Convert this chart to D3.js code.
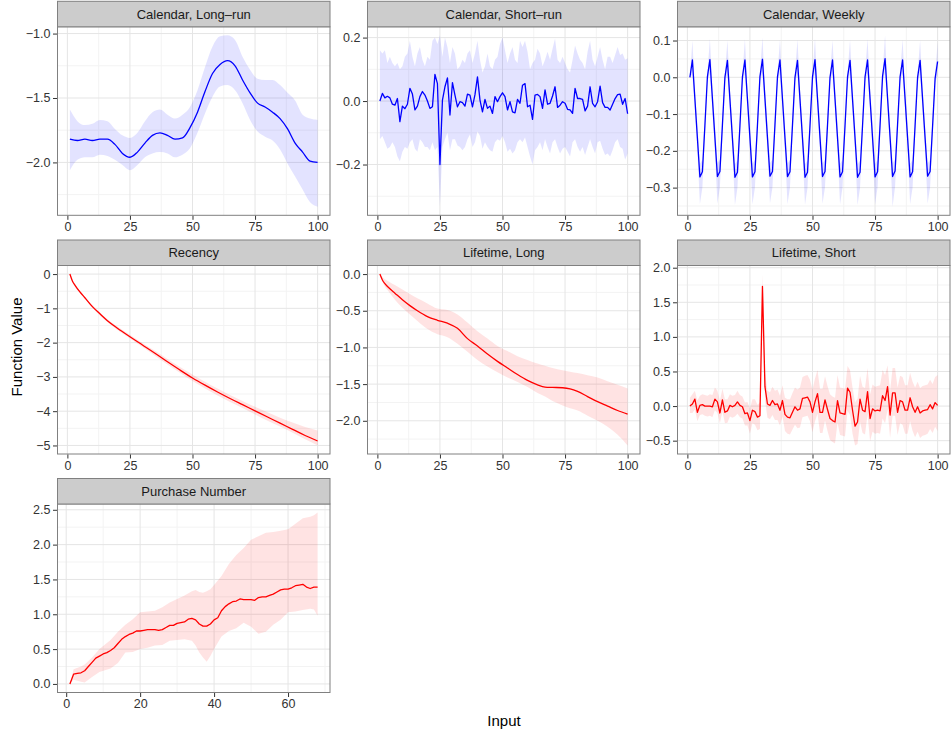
<!DOCTYPE html>
<html><head><meta charset="utf-8">
<script src="https://cdn.jsdelivr.net/npm/d3@7"></script>
<style>
body{margin:0;background:#fff}
svg{display:block;font-family:"Liberation Sans",Arial,Helvetica,sans-serif}
</style>
</head><body>
<svg id="chart" width="951" height="734"></svg>
<script>
// ---------------- DATA ----------------
const facetTitles = ["Calendar, Long\u2013run","Calendar, Short\u2013run","Calendar, Weekly","Recency","Lifetime, Long","Lifetime, Short","Purchase Number"];

const x100 = d3.range(1, 101);   // inputs 1..100
const x68 = d3.range(1, 69);     // inputs 1..68

// Calendar, Long-run
const clX = [1,4,7,10,13,16,19,22,25,28,31,34,37,40,43,46,49,52,55,58,61,64,67,70,73,76,79,82,85,88,91,94,97,100];
const clLine = [-1.82,-1.83,-1.82,-1.83,-1.82,-1.82,-1.86,-1.93,-1.96,-1.92,-1.85,-1.79,-1.77,-1.79,-1.82,-1.81,-1.73,-1.61,-1.45,-1.31,-1.24,-1.21,-1.25,-1.36,-1.46,-1.54,-1.57,-1.61,-1.66,-1.74,-1.85,-1.92,-1.99,-2.00];
const clUpper = [-1.59,-1.68,-1.71,-1.70,-1.67,-1.68,-1.74,-1.79,-1.81,-1.77,-1.68,-1.61,-1.59,-1.63,-1.66,-1.63,-1.57,-1.44,-1.26,-1.10,-1.02,-1.014,-1.05,-1.18,-1.28,-1.35,-1.36,-1.36,-1.40,-1.46,-1.52,-1.63,-1.66,-1.67];
const clLower = [-2.06,-1.98,-1.96,-1.96,-1.94,-1.95,-1.98,-2.02,-2.06,-2.02,-1.96,-1.93,-1.92,-1.93,-1.96,-1.94,-1.89,-1.77,-1.62,-1.49,-1.41,-1.40,-1.44,-1.54,-1.67,-1.76,-1.80,-1.83,-1.90,-2.01,-2.11,-2.21,-2.31,-2.344];

// Calendar, Short-run
const csLine = [0,0.024,0.010,0.015,0.010,-0.010,-0.013,0.008,-0.065,-0.016,-0.024,-0.010,0.040,0.022,-0.028,-0.016,0.014,0.030,0.019,0.000,-0.023,-0.018,0.084,0.055,-0.200,0.003,0.045,0.073,-0.044,0.058,0.019,-0.018,-0.002,-0.005,-0.016,0.022,0.019,-0.018,0.020,0.076,0.003,-0.034,0.005,-0.023,-0.016,-0.039,0.014,-0.002,0.014,0.026,0.014,-0.028,-0.002,-0.034,-0.037,0.005,-0.007,0.050,0.055,-0.018,-0.013,-0.058,0.019,0.021,0.014,-0.023,0.035,-0.010,-0.007,0.016,0.045,-0.020,-0.013,-0.002,-0.007,-0.026,-0.028,-0.039,0.040,0.008,0.008,0.005,-0.031,-0.016,0.045,-0.007,-0.018,-0.002,0.047,-0.005,-0.020,-0.020,-0.028,-0.010,0.008,0.020,0.022,-0.010,0.008,-0.040];
const csUpper = [0.16,0.15,0.16,0.12,0.14,0.12,0.11,0.12,0.10,0.11,0.14,0.15,0.19,0.14,0.11,0.15,0.17,0.13,0.11,0.14,0.13,0.19,0.20,0.18,0.207,0.14,0.20,0.17,0.12,0.17,0.15,0.10,0.11,0.13,0.12,0.15,0.16,0.12,0.15,0.19,0.13,0.09,0.11,0.15,0.11,0.10,0.13,0.14,0.18,0.20,0.16,0.12,0.15,0.17,0.13,0.12,0.19,0.17,0.19,0.155,0.10,0.12,0.13,0.165,0.15,0.11,0.13,0.155,0.13,0.165,0.197,0.13,0.12,0.14,0.12,0.10,0.09,0.13,0.175,0.15,0.13,0.12,0.10,0.155,0.19,0.13,0.11,0.14,0.17,0.13,0.10,0.14,0.14,0.12,0.145,0.17,0.145,0.15,0.13,0.135];
const csLower = [-0.12,-0.11,-0.13,-0.15,-0.145,-0.13,-0.145,-0.175,-0.19,-0.16,-0.145,-0.15,-0.13,-0.12,-0.15,-0.16,-0.12,-0.13,-0.145,-0.145,-0.155,-0.13,-0.155,-0.145,-0.333,-0.145,-0.12,-0.10,-0.155,-0.12,-0.12,-0.14,-0.145,-0.155,-0.145,-0.12,-0.105,-0.145,-0.13,-0.096,-0.11,-0.15,-0.13,-0.145,-0.155,-0.16,-0.13,-0.12,-0.125,-0.11,-0.13,-0.16,-0.15,-0.165,-0.155,-0.13,-0.12,-0.13,-0.115,-0.145,-0.175,-0.20,-0.155,-0.145,-0.13,-0.155,-0.12,-0.145,-0.165,-0.13,-0.12,-0.145,-0.165,-0.15,-0.145,-0.16,-0.175,-0.13,-0.12,-0.145,-0.16,-0.145,-0.17,-0.145,-0.12,-0.145,-0.165,-0.13,-0.125,-0.15,-0.17,-0.165,-0.175,-0.155,-0.13,-0.12,-0.145,-0.15,-0.185,-0.165];

// Calendar, Weekly
const cwLine = [
 0,0.047,-0.059,-0.165,-0.271,-0.257,-0.131,
 0.001,0.048,-0.058,-0.164,-0.270,-0.256,-0.130,
 0.000,0.046,-0.060,-0.166,-0.272,-0.258,-0.132,
 0.001,0.047,-0.059,-0.165,-0.271,-0.257,-0.131,
 0.002,0.049,-0.058,-0.164,-0.269,-0.256,-0.129,
 0.001,0.047,-0.059,-0.165,-0.270,-0.257,-0.130,
 0.000,0.046,-0.060,-0.166,-0.272,-0.258,-0.131,
 0.001,0.048,-0.058,-0.164,-0.270,-0.256,-0.130,
 0.000,0.047,-0.059,-0.165,-0.271,-0.257,-0.131,
 0.001,0.046,-0.060,-0.166,-0.272,-0.258,-0.131,
 0.001,0.047,-0.059,-0.165,-0.271,-0.257,-0.130,
 0.003,0.051,-0.057,-0.163,-0.270,-0.255,-0.128,
 0.001,0.047,-0.059,-0.165,-0.271,-0.257,-0.131,
 0.000,0.046,-0.060,-0.166,-0.269,-0.256,-0.132,
 -0.003,0.043];
const cwUpper = [
 0,0.100,-0.030,-0.130,-0.235,-0.225,-0.105,
 0.012,0.105,-0.028,-0.128,-0.233,-0.224,-0.104,
 0.011,0.101,-0.031,-0.131,-0.236,-0.226,-0.106,
 0.012,0.104,-0.030,-0.130,-0.235,-0.225,-0.105,
 0.013,0.108,-0.029,-0.129,-0.233,-0.224,-0.103,
 0.012,0.102,-0.030,-0.130,-0.234,-0.225,-0.104,
 0.011,0.103,-0.031,-0.131,-0.236,-0.226,-0.105,
 0.012,0.106,-0.029,-0.129,-0.234,-0.224,-0.104,
 0.011,0.101,-0.030,-0.130,-0.235,-0.225,-0.105,
 0.012,0.102,-0.031,-0.131,-0.236,-0.226,-0.105,
 0.012,0.104,-0.030,-0.130,-0.235,-0.225,-0.104,
 0.014,0.114,-0.028,-0.128,-0.234,-0.223,-0.102,
 0.012,0.103,-0.030,-0.130,-0.235,-0.225,-0.105,
 0.011,0.101,-0.031,-0.131,-0.233,-0.224,-0.106,
 0.008,0.096];
const cwLower = [
 0,0.008,-0.090,-0.200,-0.345,-0.300,-0.160,
 -0.010,0.009,-0.089,-0.199,-0.344,-0.299,-0.159,
 -0.011,0.007,-0.091,-0.201,-0.348,-0.301,-0.161,
 -0.010,0.008,-0.090,-0.200,-0.346,-0.300,-0.160,
 -0.009,0.010,-0.089,-0.199,-0.343,-0.299,-0.158,
 -0.010,0.008,-0.090,-0.200,-0.345,-0.300,-0.159,
 -0.011,0.007,-0.091,-0.201,-0.347,-0.301,-0.160,
 -0.010,0.009,-0.089,-0.199,-0.344,-0.299,-0.159,
 -0.011,0.008,-0.090,-0.200,-0.346,-0.300,-0.160,
 -0.010,0.007,-0.091,-0.201,-0.347,-0.301,-0.160,
 -0.010,0.008,-0.090,-0.200,-0.346,-0.300,-0.159,
 -0.008,0.012,-0.088,-0.198,-0.352,-0.298,-0.157,
 -0.010,0.008,-0.090,-0.200,-0.345,-0.300,-0.160,
 -0.011,0.007,-0.091,-0.201,-0.344,-0.299,-0.161,
 -0.014,0.004];

// Recency
const reX = [1,2,3,5,7,10,13,16,20,25,30,35,40,45,50,55,60,65,70,75,80,85,90,95,100];
const reLine = [0,-0.2,-0.32,-0.52,-0.69,-0.95,-1.16,-1.36,-1.58,-1.83,-2.07,-2.31,-2.56,-2.8,-3.03,-3.24,-3.44,-3.63,-3.81,-3.99,-4.17,-4.35,-4.53,-4.71,-4.87];
const reUpper = [0,-0.18,-0.3,-0.49,-0.66,-0.92,-1.12,-1.32,-1.53,-1.77,-2.01,-2.24,-2.48,-2.71,-2.93,-3.14,-3.34,-3.53,-3.7,-3.87,-4.03,-4.19,-4.33,-4.46,-4.56];
const reLower = [0,-0.22,-0.34,-0.55,-0.72,-0.98,-1.2,-1.4,-1.63,-1.88,-2.13,-2.38,-2.64,-2.88,-3.12,-3.34,-3.54,-3.73,-3.91,-4.1,-4.28,-4.45,-4.63,-4.82,-4.999];

// Lifetime, Long
const llX = [1,2,3,5,7,10,13,16,20,24,28,32,36,40,44,48,52,56,60,64,67,70,74,77,80,84,88,92,96,100];
const llLine = [0,-0.08,-0.13,-0.2,-0.26,-0.35,-0.43,-0.5,-0.58,-0.63,-0.67,-0.74,-0.88,-0.98,-1.09,-1.19,-1.28,-1.37,-1.45,-1.51,-1.54,-1.545,-1.55,-1.565,-1.60,-1.67,-1.74,-1.80,-1.86,-1.91];
const llUpper = [0,-0.04,-0.07,-0.11,-0.15,-0.21,-0.27,-0.33,-0.40,-0.47,-0.49,-0.55,-0.66,-0.78,-0.88,-0.98,-1.05,-1.12,-1.17,-1.22,-1.25,-1.28,-1.31,-1.33,-1.35,-1.38,-1.41,-1.46,-1.51,-1.56];
const llLower = [0,-0.1,-0.17,-0.26,-0.35,-0.46,-0.55,-0.64,-0.75,-0.82,-0.86,-0.95,-1.06,-1.17,-1.26,-1.34,-1.41,-1.47,-1.54,-1.62,-1.67,-1.73,-1.79,-1.83,-1.86,-1.93,-2.0,-2.08,-2.19,-2.336];

// Lifetime, Short
const lsLine = [0.00,0.03,0.10,-0.09,0.01,0.02,0.00,0.00,0.00,-0.01,0.10,0.06,-0.10,0.09,-0.09,-0.07,0.01,-0.01,0.01,0.06,0.01,-0.01,-0.11,-0.10,-0.21,-0.06,-0.08,-0.16,-0.14,1.73,0.28,0.03,0.01,0.08,0.02,0.03,-0.06,0.08,-0.12,-0.16,-0.17,-0.09,-0.01,-0.06,-0.04,0.11,0.12,0.13,0.06,-0.09,0.06,0.18,-0.09,-0.09,0.09,-0.05,-0.18,-0.21,-0.23,0.08,-0.10,-0.11,-0.12,0.26,0.20,-0.06,-0.29,-0.23,0.10,-0.06,-0.08,0.21,-0.18,-0.04,-0.07,-0.06,-0.07,0.15,0.08,0.28,-0.13,0.19,0.19,-0.09,0.08,0.06,-0.06,-0.06,0.12,-0.01,-0.09,-0.01,-0.10,-0.07,-0.06,-0.05,0.02,-0.04,0.05,0.01];
const lsUpper = [0.12,0.17,0.22,0.08,0.15,0.17,0.16,0.15,0.17,0.16,0.27,0.22,0.08,0.25,0.10,0.10,0.17,0.15,0.16,0.22,0.16,0.14,0.05,0.06,-0.03,0.10,0.10,0.02,0.05,1.908,0.48,0.22,0.20,0.28,0.22,0.24,0.15,0.30,0.12,0.10,0.10,0.19,0.27,0.24,0.27,0.42,0.44,0.45,0.38,0.24,0.40,0.52,0.25,0.25,0.43,0.29,0.17,0.14,0.12,0.45,0.27,0.26,0.25,0.58,0.52,0.27,0.05,0.11,0.44,0.28,0.26,0.55,0.17,0.31,0.28,0.29,0.30,0.52,0.45,0.59,0.22,0.55,0.55,0.27,0.44,0.42,0.30,0.30,0.48,0.35,0.27,0.35,0.26,0.29,0.30,0.31,0.38,0.32,0.42,0.45];
const lsLower = [-0.10,-0.10,-0.05,-0.22,-0.13,-0.12,-0.14,-0.15,-0.14,-0.16,-0.06,-0.10,-0.25,-0.08,-0.25,-0.24,-0.15,-0.17,-0.15,-0.11,-0.16,-0.18,-0.28,-0.28,-0.40,-0.25,-0.27,-0.35,-0.33,1.55,0.08,-0.17,-0.19,-0.13,-0.20,-0.20,-0.28,-0.15,-0.36,-0.40,-0.41,-0.34,-0.27,-0.32,-0.31,-0.16,-0.15,-0.14,-0.22,-0.38,-0.22,-0.11,-0.39,-0.39,-0.21,-0.36,-0.49,-0.52,-0.54,-0.24,-0.42,-0.43,-0.44,-0.07,-0.13,-0.40,-0.569,-0.55,-0.23,-0.39,-0.41,-0.12,-0.51,-0.37,-0.40,-0.39,-0.40,-0.18,-0.25,-0.05,-0.46,-0.14,-0.14,-0.42,-0.25,-0.27,-0.40,-0.40,-0.22,-0.36,-0.45,-0.37,-0.46,-0.43,-0.42,-0.40,-0.33,-0.39,-0.30,-0.36];

// Purchase Number
const pnLine = [0,0.14,0.15,0.16,0.19,0.25,0.31,0.37,0.40,0.43,0.45,0.48,0.52,0.58,0.64,0.68,0.71,0.73,0.76,0.76,0.77,0.78,0.78,0.78,0.77,0.78,0.81,0.84,0.84,0.87,0.88,0.89,0.93,0.94,0.92,0.86,0.83,0.83,0.86,0.92,0.95,1.05,1.11,1.15,1.18,1.19,1.22,1.21,1.21,1.21,1.20,1.24,1.25,1.25,1.27,1.29,1.32,1.35,1.36,1.36,1.38,1.41,1.42,1.43,1.39,1.37,1.39,1.39];
const pnRibX = [1,2,4,5,7,9,12,14,16,18,20,22,24,26,28,30,32,34,35,36,37,38,39,40,42,44,46,48,50,52,54,56,58,60,62,64,66,67,68];
const pnUpper = [0,0.21,0.25,0.28,0.38,0.5,0.63,0.75,0.85,0.93,1.03,1.04,1.05,1.1,1.17,1.22,1.27,1.33,1.35,1.32,1.31,1.33,1.36,1.42,1.55,1.72,1.85,1.95,2.07,2.12,2.17,2.18,2.2,2.22,2.3,2.38,2.4,2.42,2.46];
const pnLower = [0,0.06,0.03,0.02,0.1,0.17,0.22,0.3,0.45,0.46,0.5,0.52,0.55,0.56,0.62,0.63,0.64,0.62,0.55,0.45,0.38,0.32,0.4,0.5,0.68,0.76,0.8,0.88,0.82,0.72,0.75,0.85,0.92,1.03,1.04,1.06,1.08,1.07,0.98];

// Tick values
const xTicks100 = [0,25,50,75,100], xMinor100 = [12.5,37.5,62.5,87.5];
const xTicks68 = [0,20,40,60], xMinor68 = [10,30,50,70];
const yTicks = [
  [-1.0,-1.5,-2.0],
  [0.2,0.0,-0.2],
  [0.1,0.0,-0.1,-0.2,-0.3],
  [0,-1,-2,-3,-4,-5],
  [0.0,-0.5,-1.0,-1.5,-2.0],
  [2.0,1.5,1.0,0.5,0.0,-0.5],
  [0.0,0.5,1.0,1.5,2.0,2.5]
];
const yMinor = [
  [-1.25,-1.75,-2.25],
  [0.1,-0.1,-0.3],
  [0.05,-0.05,-0.15,-0.25,-0.35],
  [-0.5,-1.5,-2.5,-3.5,-4.5],
  [-0.25,-0.75,-1.25,-1.75,-2.25],
  [1.75,1.25,0.75,0.25,-0.25],
  [0.25,0.75,1.25,1.75,2.25]
];

// ---------------- BUILD ----------------
const BLUE = "#0000ff", RED = "#ff0000";
const panels = [
  {title:facetTitles[0], lx:clX, ly:clLine, rx:clX, ru:clUpper, rl:clLower, col:BLUE, smooth:true},
  {title:facetTitles[1], lx:x100, ly:csLine, rx:x100, ru:csUpper, rl:csLower, col:BLUE},
  {title:facetTitles[2], lx:x100, ly:cwLine, rx:x100, ru:cwUpper, rl:cwLower, col:BLUE},
  {title:facetTitles[3], lx:reX, ly:reLine, rx:reX, ru:reUpper, rl:reLower, col:RED, smooth:true},
  {title:facetTitles[4], lx:llX, ly:llLine, rx:llX, ru:llUpper, rl:llLower, col:RED, smooth:true},
  {title:facetTitles[5], lx:x100, ly:lsLine, rx:x100, ru:lsUpper, rl:lsLower, col:RED},
  {title:facetTitles[6], lx:x68, ly:pnLine, rx:pnRibX, ru:pnUpper, rl:pnLower, col:RED}
];
const fmts = [".1f",".1f",".1f","d",".1f",".1f",".1f"].map(f=>d3.format(f));

const svg = d3.select("#chart");
const colLeft = [57.5, 367.5, 677.5], PW = 272.5;
const stripTop = [1.3, 240, 478.5], SH = 25.5, PH = 188.5;

function expand(ext){ const r = ext[1]-ext[0]; return [ext[0]-0.05*r, ext[1]+0.05*r]; }

panels.forEach((p, i) => {
  const c = i % 3, r = Math.floor(i / 3);
  const L = colLeft[c], T = stripTop[r] + SH;
  const xDom = expand(d3.extent(p.lx));
  const yDom = expand(d3.extent([...p.ly, ...p.ru, ...p.rl]));
  const x = d3.scaleLinear().domain(xDom).range([L, L + PW]);
  const y = d3.scaleLinear().domain(yDom).range([T + PH, T]);
  const xt = i === 6 ? xTicks68 : xTicks100;
  const xm = i === 6 ? xMinor68 : xMinor100;

  const g = svg.append("g");
  const cid = "clip" + i;
  svg.append("clipPath").attr("id", cid).append("rect")
    .attr("x", L).attr("y", T).attr("width", PW).attr("height", PH);

  g.append("rect").attr("x", L).attr("y", T).attr("width", PW).attr("height", PH).attr("fill", "#fff");
  const grid = g.append("g").attr("clip-path", `url(#${cid})`);
  // minor grid
  grid.selectAll(".vmin").data(xm).join("line")
    .attr("x1", d => x(d)).attr("x2", d => x(d)).attr("y1", T).attr("y2", T + PH)
    .attr("stroke", "#f3f3f3").attr("stroke-width", 1);
  grid.selectAll(".hmin").data(yMinor[i]).join("line")
    .attr("y1", d => y(d)).attr("y2", d => y(d)).attr("x1", L).attr("x2", L + PW)
    .attr("stroke", "#f3f3f3").attr("stroke-width", 1);
  // major grid
  grid.selectAll(".vmaj").data(xt).join("line")
    .attr("x1", d => x(d)).attr("x2", d => x(d)).attr("y1", T).attr("y2", T + PH)
    .attr("stroke", "#e5e5e5").attr("stroke-width", 1);
  grid.selectAll(".hmaj").data(yTicks[i]).join("line")
    .attr("y1", d => y(d)).attr("y2", d => y(d)).attr("x1", L).attr("x2", L + PW)
    .attr("stroke", "#e5e5e5").attr("stroke-width", 1);

  const curve = p.smooth ? d3.curveMonotoneX : d3.curveLinear;
  const rib = p.rx.map((xv, k) => ({x: xv, u: p.ru[k], l: p.rl[k]}));
  grid.append("path").datum(rib)
    .attr("d", d3.area().x(d => x(d.x)).y0(d => y(d.l)).y1(d => y(d.u)).curve(curve))
    .attr("fill", p.col).attr("fill-opacity", 0.11);
  const ln = p.lx.map((xv, k) => ({x: xv, y: p.ly[k]}));
  grid.append("path").datum(ln)
    .attr("d", d3.line().x(d => x(d.x)).y(d => y(d.y)).curve(curve))
    .attr("fill", "none").attr("stroke", p.col).attr("stroke-width", 1.3)
    .attr("stroke-linejoin", "round");

  // border
  g.append("rect").attr("x", L).attr("y", T).attr("width", PW).attr("height", PH)
    .attr("fill", "none").attr("stroke", "#808080").attr("stroke-width", 1);
  // strip
  g.append("rect").attr("x", L).attr("y", stripTop[r]).attr("width", PW).attr("height", SH)
    .attr("fill", "#cccccc").attr("stroke", "#808080").attr("stroke-width", 1);
  g.append("text").attr("x", L + PW / 2).attr("y", stripTop[r] + SH / 2 + 4.5)
    .attr("text-anchor", "middle").attr("font-size", "13px").attr("fill", "#1a1a1a").text(p.title);

  // axes
  const ax = d3.axisBottom(x).tickValues(xt).tickFormat(d3.format("d")).tickSize(4).tickPadding(2.5);
  const ay = d3.axisLeft(y).tickValues(yTicks[i]).tickFormat(fmts[i]).tickSize(4).tickPadding(2.5);
  const gx = g.append("g").attr("transform", `translate(0,${T + PH + 0.5})`).call(ax);
  const gy = g.append("g").attr("transform", `translate(${L - 0.5},0)`).call(ay);
  [gx, gy].forEach(a => {
    a.select(".domain").remove();
    a.selectAll("line").attr("stroke", "#333");
    a.selectAll("text").attr("font-size", "12.5px").attr("fill", "#333")
      .attr("font-family", '"Liberation Sans",Arial,sans-serif');
  });
});

svg.append("text").attr("x", 504).attr("y", 726).attr("text-anchor", "middle")
  .attr("font-size", "15px").attr("fill", "#000").text("Input");
svg.append("text").attr("transform", "translate(22,347) rotate(-90)").attr("text-anchor", "middle")
  .attr("font-size", "15px").attr("fill", "#000").text("Function Value");
</script>
</body></html>
